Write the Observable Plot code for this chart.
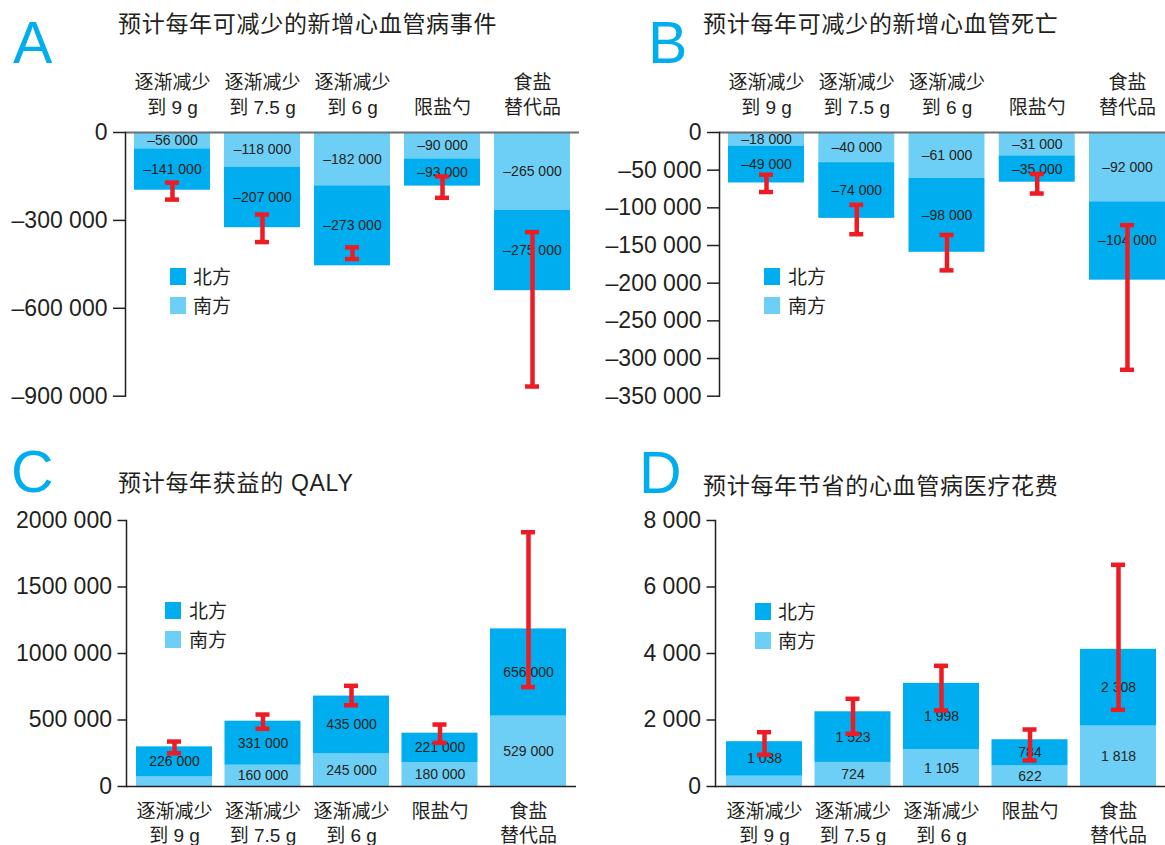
<!DOCTYPE html>
<html>
<head>
<meta charset="utf-8">
<script src="https://cdn.jsdelivr.net/npm/d3@7"></script>
<script src="https://cdn.jsdelivr.net/npm/@observablehq/plot@0.6"></script>
<style>
  html, body { margin: 0; padding: 0; background: #fff; overflow: hidden; }
  #page { position: relative; width: 1165px; height: 845px; overflow: hidden; }
  #page > svg { position: absolute; }
</style>
</head>
<body>
<div id="page"></div>
<script>
// Strategies compared (x categories)
const categories = ["逐渐减少\n到 9 g", "逐渐减少\n到 7.5 g", "逐渐减少\n到 6 g", "限盐勺", "食盐\n替代品"];
// Regions; south is stacked next to the zero line
const series = ["南方", "北方"];
const legendOrder = ["北方", "南方"];

// A: new cardiovascular events averted per year
const eventsSouth = [-56000, -118000, -182000, -90000, -265000];
const eventsNorth = [-141000, -207000, -273000, -93000, -275000];
const eventsHi = [-171000, -280000, -392000, -150000, -340000];
const eventsLo = [-229000, -374000, -432000, -223000, -867000];
const eventsTicks = [0, -300000, -600000, -900000];

// B: cardiovascular deaths averted per year
const deathsSouth = [-18000, -40000, -61000, -31000, -92000];
const deathsNorth = [-49000, -74000, -98000, -35000, -104000];
const deathsHi = [-56000, -96000, -136000, -55000, -123000];
const deathsLo = [-79000, -135000, -183000, -81000, -315000];
const deathsTicks = [0, -50000, -100000, -150000, -200000, -250000, -300000, -350000];

// C: QALYs gained per year
const qalySouth = [72000, 160000, 245000, 180000, 529000];
const qalyNorth = [226000, 331000, 435000, 221000, 656000];
const qalySouthShown = [false, true, true, true, true];
const qalyHi = [338000, 541000, 757000, 466000, 1912000];
const qalyLo = [250000, 434000, 611000, 328000, 747000];
const qalyTicks = [0, 500000, 1000000, 1500000, 2000000];

// D: cardiovascular medical costs saved per year
const costSouth = [310, 724, 1105, 622, 1818];
const costNorth = [1038, 1523, 1998, 784, 2308];
const costSouthShown = [false, true, true, true, true];
const costHi = [1633, 2638, 3630, 1714, 6668];
const costLo = [953, 1585, 2286, 782, 2307];
const costTicks = [0, 2000, 4000, 6000, 8000];

const titles = {
  A: "预计每年可减少的新增心血管病事件",
  B: "预计每年可减少的新增心血管死亡",
  C: "预计每年获益的 QALY",
  D: "预计每年节省的心血管病医疗花费"
};

const ink = "#231f20";
const north = "#00aeef";
const south = "#6dcff6";
const red = "#ed1c24";
const fontFamily = "'Liberation Sans', Arial, 'Noto Sans CJK SC', sans-serif";

// "–300 000", "2000 000", "1 038": thousands split by a single space
function fmt(v) {
  const sign = v < 0 ? "\u2013" : "";
  const a = Math.abs(Math.round(v));
  if (a < 1000) return sign + a;
  return sign + Math.floor(a / 1000) + " " + String(a % 1000).padStart(3, "0");
}

const page = document.getElementById("page");

function panel(cfg) {
  const rows = categories.flatMap((c, i) => [
    {cat: c, series: "南方", value: cfg.south[i], shown: cfg.southShown ? cfg.southShown[i] : true},
    {cat: c, series: "北方", value: cfg.north[i], shown: true}
  ]);
  const errs = categories.map((c, i) => ({cat: c, lo: cfg.lo[i], hi: cfg.hi[i]}));
  const top = cfg.xAnchor === "top";

  const chart = Plot.plot({
    width: cfg.width,
    height: cfg.height,
    marginLeft: cfg.marginLeft,
    marginRight: cfg.marginRight,
    marginTop: cfg.marginTop,
    marginBottom: cfg.marginBottom,
    style: {fontFamily, color: ink, background: "transparent", overflow: "visible"},
    x: {type: "band", domain: categories, paddingInner: cfg.paddingInner, paddingOuter: cfg.paddingOuter, round: false},
    y: {domain: cfg.yDomain},
    color: {domain: series, range: [south, north]},
    marks: [
      Plot.barY(rows, Plot.stackY({x: "cat", y: "value", fill: "series"})),
      Plot.ruleY([0], {stroke: cfg.zeroStroke, strokeWidth: cfg.zeroWidth}),
      Plot.frame({anchor: "left", stroke: ink, strokeWidth: 1.5}),
      Plot.axisY({ticks: cfg.ticks, tickFormat: fmt, tickSize: cfg.tickSize, tickPadding: 6, fontSize: 23, label: null, strokeWidth: 1.5}),
      Plot.axisX({anchor: cfg.xAnchor, tickSize: 0, tickPadding: top ? 18.5 : 13.5, fontSize: 19, lineHeight: 1.3, label: null}),
      Plot.text(rows, Plot.stackY({x: "cat", y: "value", z: "series", text: d => d.shown ? fmt(d.value) : null, fontSize: 14, fill: ink})),
      Plot.ruleX(errs, {x: "cat", y1: "lo", y2: "hi", stroke: red, strokeWidth: 4.5}),
      Plot.tickY(errs, {x: "cat", y: "lo", stroke: red, strokeWidth: 4.5, insetLeft: 31, insetRight: 31}),
      Plot.tickY(errs, {x: "cat", y: "hi", stroke: red, strokeWidth: 4.5, insetLeft: 31, insetRight: 31})
    ]
  });
  chart.style.left = cfg.left + "px";
  chart.style.top = cfg.top + "px";
  chart.style.maxWidth = "none";
  page.appendChild(chart);
}

panel({south: eventsSouth, north: eventsNorth, lo: eventsLo, hi: eventsHi, ticks: eventsTicks,
  yDomain: [-900000, 0], left: 0, top: 0, width: 582, height: 420,
  marginLeft: 125, marginRight: 3, marginTop: 132, marginBottom: 24.3,
  paddingInner: 0.156, paddingOuter: 0.1, xAnchor: "top", tickSize: 12, zeroStroke: "#6d6e71", zeroWidth: 2});

panel({south: deathsSouth, north: deathsNorth, lo: deathsLo, hi: deathsHi, ticks: deathsTicks,
  yDomain: [-350000, 0], left: 594, top: 0, width: 583, height: 420,
  marginLeft: 125, marginRight: 3, marginTop: 132, marginBottom: 24.3,
  paddingInner: 0.158, paddingOuter: 0.1, xAnchor: "top", tickSize: 12, zeroStroke: "#6d6e71", zeroWidth: 2});

panel({south: qalySouth, north: qalyNorth, southShown: qalySouthShown, lo: qalyLo, hi: qalyHi, ticks: qalyTicks,
  yDomain: [0, 2000000], left: 0, top: 430, width: 582, height: 415,
  marginLeft: 126, marginRight: 6, marginTop: 90, marginBottom: 59,
  paddingInner: 0.141, paddingOuter: 0.113, xAnchor: "bottom", tickSize: 8.5, zeroStroke: ink, zeroWidth: 1.5});

panel({south: costSouth, north: costNorth, southShown: costSouthShown, lo: costLo, hi: costHi, ticks: costTicks,
  yDomain: [0, 8000], left: 590, top: 430, width: 580, height: 415,
  marginLeft: 125, marginRight: 3, marginTop: 90, marginBottom: 59,
  paddingInner: 0.141, paddingOuter: 0.124, xAnchor: "bottom", tickSize: 8.5, zeroStroke: ink, zeroWidth: 1.5});

// Panel letters, titles and legends
const overlay = d3.select(page).append("svg")
  .attr("width", 1165).attr("height", 845)
  .style("left", "0px").style("top", "0px")
  .style("font-family", fontFamily);

const heads = [
  {key: "A", lx: 13, ly: 63.3, tx: 118, ty: 31.5, sx: 170, sy: 268, gx: 193},
  {key: "B", lx: 648, ly: 63.3, tx: 703, ty: 31.5, sx: 764, sy: 268, gx: 788},
  {key: "C", lx: 11, ly: 492, tx: 118, ty: 491, sx: 165, sy: 602, gx: 189},
  {key: "D", lx: 639, ly: 493, tx: 703, ty: 494, sx: 755, sy: 603, gx: 778}
];

for (const h of heads) {
  overlay.append("text").attr("x", h.lx).attr("y", h.ly)
    .attr("font-size", 59).attr("fill", north).text(h.key);
  overlay.append("text").attr("x", h.tx).attr("y", h.ty)
    .attr("font-size", 23).attr("letter-spacing", 0.7).attr("fill", ink).text(titles[h.key]);
  legendOrder.forEach((name, i) => {
    overlay.append("rect").attr("x", h.sx).attr("y", h.sy + i * 29)
      .attr("width", 16).attr("height", 17).attr("fill", name === "北方" ? north : south);
    overlay.append("text").attr("x", h.gx).attr("y", h.sy + 15.5 + i * 29)
      .attr("font-size", 19).attr("fill", ink).text(name);
  });
}
</script>
</body>
</html>
